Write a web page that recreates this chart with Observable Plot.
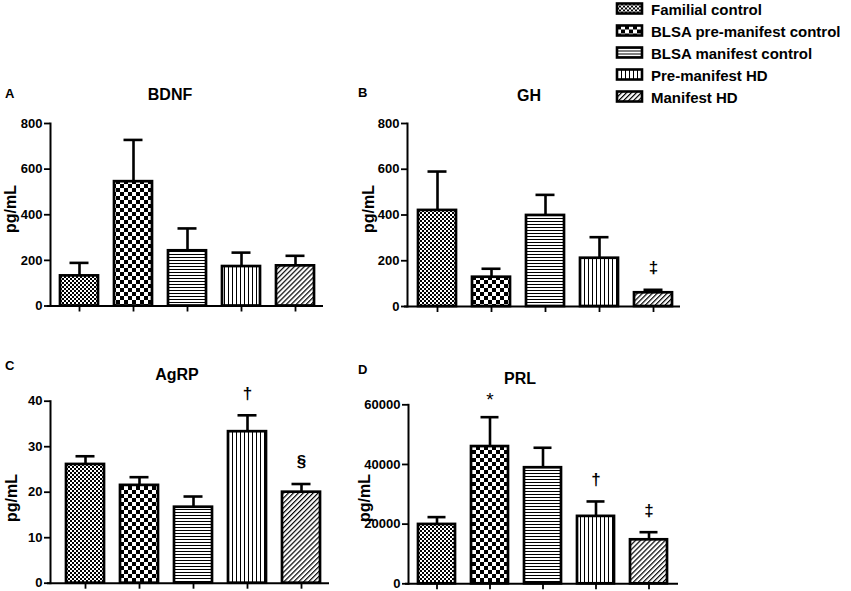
<!DOCTYPE html>
<html><head><meta charset="utf-8">
<script src="https://cdn.jsdelivr.net/npm/d3@7"></script>
<script src="https://cdn.jsdelivr.net/npm/@observablehq/plot@0.6"></script>
<style>
body{margin:0;background:#fff;}
#root{position:relative;width:851px;height:591px;overflow:hidden;font-family:"Liberation Sans",Arial,sans-serif;font-weight:bold;color:#000;}
.abs{position:absolute;}
.title{font-size:16px;transform:translate(-50%,-50%);white-space:nowrap;}
.letter{font-size:13px;transform:translateY(-50%);}
.ylab{font-size:16px;line-height:16px;white-space:nowrap;transform:translate(-50%,-50%) rotate(-90deg);}
.leg{position:absolute;left:617px;display:flex;align-items:center;font-size:15px;white-space:nowrap;transform:translateY(-50%);}
.leg svg{margin-right:9px;overflow:visible;}
</style></head><body>
<svg width="0" height="0" style="position:absolute">
<defs>
<pattern id="p0" width="4" height="4" patternUnits="userSpaceOnUse"><rect width="4" height="4" fill="#fff"/><rect width="2" height="2" fill="#000"/><rect x="2" y="2" width="2" height="2" fill="#000"/></pattern>
<pattern id="p1" width="8" height="8" patternUnits="userSpaceOnUse"><rect width="8" height="8" fill="#fff"/><rect width="4" height="4" fill="#000"/><rect x="4" y="4" width="4" height="4" fill="#000"/></pattern>
<pattern id="p2" width="3" height="3" patternUnits="userSpaceOnUse"><rect width="3" height="3" fill="#fff"/><rect width="3" height="1" fill="#000"/></pattern>
<pattern id="p3" width="4" height="4" patternUnits="userSpaceOnUse"><rect width="4" height="4" fill="#fff"/><rect width="1" height="4" fill="#000"/></pattern>
<pattern id="p4" width="3.5" height="3.5" patternUnits="userSpaceOnUse" patternTransform="rotate(45)"><rect width="3.5" height="3.5" fill="#fff"/><rect width="1.2" height="3.5" fill="#000"/></pattern>
</defs>
</svg>
<div id="root"></div>
<script>
// ---- data ----
const groups = ["Familial control","BLSA pre-manifest control","BLSA manifest control","Pre-manifest HD","Manifest HD"];
const panelLetters = ["A","B","C","D"];
const panelTitles = ["BDNF","GH","AgRP","PRL"];
const yLabel = "pg/mL";

const bdnfMean = [132, 545, 242, 173, 176];
const bdnfSem  = [57, 183, 98, 61, 44];
const bdnfTicks = [0, 200, 400, 600, 800];
const bdnfMarks = ["", "", "", "", ""];

const ghMean = [420, 128, 398, 211, 60];
const ghSem  = [170, 37, 90, 92, 13];
const ghTicks = [0, 200, 400, 600, 800];
const ghMarks = ["", "", "", "", "‡"];

const agrpMean = [26.1, 21.5, 16.7, 33.3, 20.0];
const agrpSem  = [1.8, 1.8, 2.35, 3.6, 1.8];
const agrpTicks = [0, 10, 20, 30, 40];
const agrpMarks = ["", "", "", "†", "§"];

const prlMean = [19900, 46000, 38900, 22600, 14750];
const prlSem  = [2450, 9850, 6700, 5000, 2550];
const prlTicks = [0, 20000, 40000, 60000];
const prlMarks = ["", "*", "", "†", "‡"];

const patterns = ["url(#p0)","url(#p1)","url(#p2)","url(#p3)","url(#p4)"];

// ---- layout ----
const root = document.getElementById("root");
const panels = [
  {mean: bdnfMean, sem: bdnfSem, ticks: bdnfTicks, marks: bdnfMarks, L:0,   T:80,  W:340, H:240, ml:50, mr:17, mt:43,   mb:14.5, xr:[58,315], title:[170,95],  letter:[5,93],   ylab:[11,209]},
  {mean: ghMean,   sem: ghSem,   ticks: ghTicks,   marks: ghMarks,   L:340, T:80,  W:345, H:240, ml:67, mr:5,  mt:43,   mb:14,   xr:[77,332], title:[529,96],  letter:[358,92], ylab:[369,209]},
  {mean: agrpMean, sem: agrpSem, ticks: agrpTicks, marks: agrpMarks, L:0,   T:350, W:340, H:241, ml:50, mr:11, mt:50.7, mb:8.3,  xr:[65,320], title:[177,375], letter:[5,365],  ylab:[11.5,498]},
  {mean: prlMean,  sem: prlSem,  ticks: prlTicks,  marks: prlMarks,  L:340, T:350, W:345, H:241, ml:68, mr:7,  mt:54.3, mb:7.7,  xr:[78,328], title:[520,379], letter:[358,369], ylab:[365,498]}
];

panels.forEach((p, k) => {
  const data = groups.map((g, i) => ({g, v: p.mean[i], e: p.sem[i], fill: patterns[i], mark: p.marks[i]}));
  const ymax = p.ticks[p.ticks.length - 1];
  const chart = Plot.plot({
    width: p.W, height: p.H,
    marginLeft: p.ml, marginRight: p.mr, marginTop: p.mt, marginBottom: p.mb,
    style: {fontFamily: '"Liberation Sans", Arial, sans-serif', fontSize: "13px", fontWeight: "bold", color: "#000", background: "transparent", overflow: "visible"},
    x: {domain: groups, range: p.xr, paddingInner: 0.3, paddingOuter: 0, label: null},
    y: {domain: [0, ymax], label: null},
    color: {type: "identity"},
    marks: [
      Plot.ruleX(data, {x: "g", y1: "v", y2: d => d.v + d.e, stroke: "#000", strokeWidth: 2.6}),
      Plot.tickY(data, {x: "g", y: d => d.v + d.e, stroke: "#000", strokeWidth: 2.6, insetLeft: 9.5, insetRight: 9.5}),
      Plot.barY(data, {x: "g", y: "v", fill: "fill", stroke: "#000", strokeWidth: 2.7}),
      Plot.frame({anchor: "left", stroke: "#000", strokeWidth: 2}),
      Plot.ruleY([0], {stroke: "#000", strokeWidth: 2, insetLeft: -3}),
      Plot.axisY({ticks: p.ticks, tickSize: 6, tickPadding: 2, tickFormat: d => String(d), label: null, strokeWidth: 1.8}),
      Plot.axisX({tickSize: 6, fill: "none", stroke: "#000", strokeWidth: 1.8, label: null}),
      Plot.text(data.filter(d => d.mark && d.mark !== "*"), {x: "g", y: d => d.v + d.e, text: "mark", dy: -22, fontSize: 17, fontWeight: "bold"}),
      Plot.text(data.filter(d => d.mark === "*"), {x: "g", y: d => d.v + d.e, text: "mark", dy: -17, fontSize: 19, fontWeight: "normal"})
    ]
  });
  chart.classList.add("abs");
  chart.style.left = p.L + "px";
  chart.style.top = p.T + "px";
  root.appendChild(chart);

  const t = document.createElement("div");
  t.className = "abs title";
  t.textContent = panelTitles[k];
  t.style.left = p.title[0] + "px"; t.style.top = p.title[1] + "px";
  root.appendChild(t);

  const l = document.createElement("div");
  l.className = "abs letter";
  l.textContent = panelLetters[k];
  l.style.left = p.letter[0] + "px"; l.style.top = p.letter[1] + "px";
  root.appendChild(l);

  const y = document.createElement("div");
  y.className = "abs ylab";
  y.textContent = yLabel;
  y.style.left = p.ylab[0] + "px"; y.style.top = p.ylab[1] + "px";
  root.appendChild(y);
});

// legend
groups.forEach((g, i) => {
  const row = document.createElement("div");
  row.className = "leg";
  row.style.top = (8.5 + i * 22) + "px";
  row.innerHTML = `<svg width="25" height="10"><rect x="0" y="0" width="25" height="10" fill="${patterns[i]}" stroke="#000" stroke-width="2.6"/></svg><span>${g}</span>`;
  root.appendChild(row);
});
</script>
</body></html>
